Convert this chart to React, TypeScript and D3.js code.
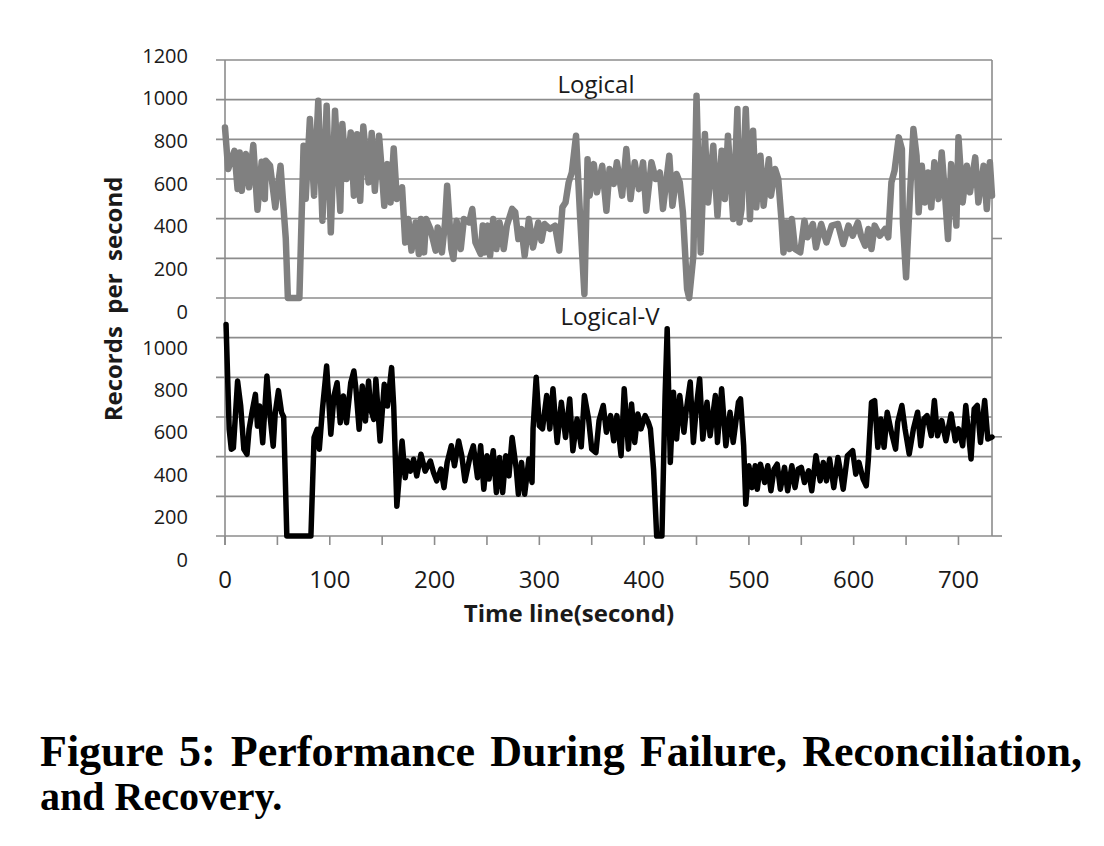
import React, { useLayoutEffect, useRef, useState } from "react";
import * as d3 from "d3";

// ---- data (time in seconds, records per second) ----
const logicalTime = [
  0, 3, 9, 12, 14, 16, 20, 23, 27, 31,
  35, 38, 39, 43, 48, 53, 55, 58, 60, 71,
  75, 77, 81, 85, 89, 93, 97, 101, 105, 110,
  112, 116, 120, 123, 126, 129, 132, 137, 140, 143,
  147, 149, 152, 155, 158, 161, 164, 169, 172, 175,
  178, 182, 185, 187, 190, 192, 196, 201, 203, 207,
  210, 212, 216, 218, 221, 225, 228, 233, 236, 239,
  244, 246, 248, 251, 253, 256, 259, 262, 266, 269,
  274, 277, 280, 283, 286, 290, 294, 299, 302, 305,
  310, 315, 319, 322, 325, 328, 331, 335, 339, 343,
  346, 348, 352, 355, 360, 364, 367, 371, 374, 379,
  383, 387, 391, 395, 399, 402, 407, 411, 415, 418,
  424, 427, 431, 434, 437, 441, 443, 447, 450, 454,
  458, 461, 466, 470, 474, 477, 480, 485, 489, 491,
  493, 497, 501, 504, 507, 511, 514, 519, 521, 525,
  528, 531, 533, 536, 539, 541, 544, 549, 553, 556,
  561, 564, 569, 574, 579, 585, 590, 595, 599, 604,
  607, 611, 614, 617, 620, 625, 630, 633, 636, 639,
  643, 646, 647, 650, 654, 657, 660, 662, 665, 668,
  671, 674, 677, 681, 684, 687, 690, 693, 698, 700,
  704, 708, 711, 716, 719, 724, 727, 730, 732,
];
const logicalRate = [
  860, 650, 742, 550, 734, 541, 726, 558, 771, 445,
  687, 499, 692, 667, 457, 667, 516, 300, 0, 0,
  768, 500, 902, 516, 995, 390, 969, 331, 944, 440,
  877, 600, 835, 516, 826, 490, 865, 583, 832, 541,
  818, 684, 465, 675, 482, 754, 499, 558, 280, 398,
  239, 381, 222, 398, 230, 398, 348, 239, 356, 230,
  380, 566, 247, 197, 390, 247, 398, 381, 449, 280,
  222, 365, 230, 365, 213, 398, 247, 381, 247, 365,
  449, 432, 297, 348, 213, 398, 255, 381, 289, 373,
  348, 365, 239, 457, 482, 583, 633, 818, 400, 20,
  700, 516, 675, 533, 667, 440, 650, 575, 684, 516,
  751, 499, 684, 549, 684, 440, 684, 600, 633, 449,
  717, 465, 625, 583, 432, 45, 0, 213, 1020, 230,
  827, 482, 768, 415, 743, 499, 818, 398, 953, 381,
  449, 953, 398, 843, 457, 717, 465, 700, 516, 650,
  600, 398, 230, 381, 247, 398, 247, 230, 390, 306,
  373, 255, 373, 280, 365, 373, 272, 365, 314, 381,
  314, 264, 348, 247, 365, 314, 348, 306, 583, 642,
  810, 751, 381, 104, 549, 852, 717, 432, 667, 482,
  633, 457, 684, 499, 734, 533, 297, 675, 365, 810,
  482, 667, 533, 709, 482, 667, 449, 684, 516,
];

const logicalVTime = [
  1, 4, 6, 8, 12, 15, 18, 21, 23, 26,
  29, 31, 33, 36, 40, 43, 46, 48, 51, 54,
  56, 59, 82, 85, 88, 90, 93, 97, 101, 104,
  107, 110, 113, 116, 120, 123, 125, 128, 131, 134,
  137, 139, 142, 144, 148, 152, 155, 159, 161, 164,
  169, 172, 174, 177, 180, 183, 187, 191, 196, 199,
  202, 206, 209, 212, 216, 219, 223, 226, 229, 234,
  237, 241, 244, 247, 250, 252, 256, 259, 262, 265,
  268, 271, 274, 278, 280, 283, 286, 290, 293, 294,
  297, 300, 303, 307, 310, 313, 317, 321, 325, 329,
  332, 336, 340, 343, 347, 350, 354, 357, 361, 364,
  368, 371, 374, 378, 381, 385, 388, 391, 394, 397,
  401, 404, 406, 409, 412, 417, 420, 422, 425, 428,
  431, 434, 438, 440, 444, 447, 450, 453, 456, 460,
  463, 468, 470, 474, 478, 482, 485, 490, 492, 495,
  497, 500, 503, 506, 508, 511, 515, 518, 521, 524,
  527, 530, 534, 537, 541, 544, 547, 550, 553, 557,
  560, 564, 568, 571, 574, 577, 581, 585, 587, 590,
  594, 599, 602, 605, 609, 612, 614, 617, 620, 623,
  626, 629, 632, 636, 640, 642, 646, 649, 653, 657,
  661, 664, 667, 670, 674, 677, 680, 684, 688, 693,
  697, 700, 704, 707, 712, 715, 718, 721, 725, 728,
  732,
];
const logicalVRate = [
  1067, 538, 437, 445, 781, 655, 437, 412, 538, 630,
  714, 554, 655, 470, 807, 605, 453, 622, 733, 622,
  600, 0, 0, 497, 538, 437, 639, 857, 513, 706,
  773, 571, 706, 571, 773, 832, 740, 538, 756, 580,
  781, 639, 588, 790, 479, 765, 655, 849, 655, 150,
  479, 294, 378, 327, 387, 303, 412, 327, 378, 320,
  278, 337, 244, 370, 455, 354, 479, 404, 278, 404,
  455, 294, 455, 236, 405, 287, 430, 219, 396, 219,
  405, 303, 497, 337, 211, 371, 211, 388, 270, 540,
  801, 556, 540, 708, 540, 742, 472, 674, 497, 691,
  430, 590, 450, 708, 590, 438, 421, 582, 658, 523,
  607, 480, 607, 405, 742, 438, 666, 472, 615, 540,
  607, 573, 540, 337, 0, 0, 708, 1045, 371, 725,
  489, 708, 523, 624, 776, 472, 658, 792, 489, 674,
  506, 708, 472, 742, 455, 624, 472, 674, 691, 455,
  160, 354, 244, 354, 236, 362, 270, 354, 228, 337,
  362, 236, 346, 228, 354, 244, 337, 346, 270, 329,
  228, 405, 278, 371, 278, 388, 244, 396, 337, 236,
  405, 430, 312, 371, 287, 253, 388, 674, 683, 447,
  590, 447, 624, 523, 438, 573, 658, 540, 413, 540,
  624, 455, 590, 607, 506, 683, 506, 582, 480, 615,
  480, 540, 455, 658, 388, 641, 658, 472, 683, 489,
  499,
];

const topTickLabels = [0, 200, 400, 600, 800, 1000, 1200];
const bottomTickLabels = [0, 200, 400, 600, 800, 1000];
const xTickLabels = [0, 100, 200, 300, 400, 500, 600, 700];
const xTickMarks = [0, 50, 100, 150, 200, 250, 300, 350, 400, 450, 500, 550, 600, 650, 700];
const rightStubs = [0, 500, 1000, 1500, 2000];

const seriesNames = ["Logical", "Logical-V"];
const yTitle = "Records  per  second";
const xTitle = "Time line(second)";
const captionLine1 = "Figure 5: Performance During Failure, Reconciliation,";
const captionLine2 = "and Recovery.";

export default function App() {
  const left = 225;
  const right = 992;
  const x = d3.scaleLinear().domain([0, 732]).range([left, right]);
  const yTop = d3.scaleLinear().domain([0, 1200]).range([298, 60]);
  const yBot = d3.scaleLinear().domain([0, 1200]).range([536, 298]);
  // tick labels in the reference sit on their own (slightly stretched) scale
  const yTopLabel = d3.scaleLinear().domain([0, 1200]).range([311, 55]);
  const yBotLabel = d3.scaleLinear().domain([0, 1000]).range([559, 347]);

  const topLine = d3
    .line<number>()
    .x((_, i) => x(logicalTime[i]))
    .y((d) => yTop(d));
  const botLine = d3
    .line<number>()
    .x((_, i) => x(logicalVTime[i]))
    .y((d) => yBot(d));

  // justify caption line 1 by widening the word gaps only
  const capRef = useRef<SVGTextElement>(null);
  const [wordSpacing, setWordSpacing] = useState(0);
  useLayoutEffect(() => {
    const el = capRef.current;
    if (!el) return;
    const natural = el.getComputedTextLength();
    const gaps = captionLine1.split(" ").length - 1;
    const target = 1082 - 40;
    setWordSpacing(Math.max(0, (target - natural) / gaps));
  }, []);

  const gridColor = "#8c8c8c";
  const textColor = "#1a1a1a";
  const sans = "'Open Sans', 'Noto Sans', sans-serif";
  const serif = "'Liberation Serif', 'Times New Roman', serif";

  return (
    <svg
      width={1104}
      height={846}
      style={{ position: "absolute", left: 0, top: 0, background: "#fff", display: "block" }}
    >
      <rect x={0} y={0} width={1104} height={846} fill="#fff" />
      {/* gridlines */}
      {[0, 200, 400, 600, 800, 1000, 1200].map((v) => (
        <line key={"gt" + v} x1={216} x2={right} y1={yTop(v)} y2={yTop(v)} stroke={gridColor} strokeWidth={1.6} />
      ))}
      {[0, 200, 400, 600, 800, 1000].map((v) => (
        <line key={"gb" + v} x1={216} x2={right} y1={yBot(v)} y2={yBot(v)} stroke={gridColor} strokeWidth={1.6} />
      ))}
      {/* right stubs */}
      {rightStubs.map((v) => (
        <line key={"rs" + v} x1={right} x2={1002} y1={yBot(v)} y2={yBot(v)} stroke={gridColor} strokeWidth={1.6} />
      ))}
      {/* axes */}
      <line x1={left} x2={left} y1={60} y2={545} stroke={gridColor} strokeWidth={1.6} />
      <line x1={right} x2={right} y1={60} y2={536} stroke={gridColor} strokeWidth={1.6} />
      {xTickMarks.map((t) => (
        <line key={"xt" + t} x1={x(t)} x2={x(t)} y1={536} y2={545} stroke={gridColor} strokeWidth={1.6} />
      ))}

      {/* series */}
      <path
        d={topLine(logicalRate) || ""}
        fill="none"
        stroke="#808080"
        strokeWidth={6.5}
        strokeLinejoin="round"
        strokeLinecap="round"
      />
      <path
        d={botLine(logicalVRate) || ""}
        fill="none"
        stroke="#000"
        strokeWidth={5.5}
        strokeLinejoin="round"
        strokeLinecap="round"
      />

      {/* y tick labels */}
      {topTickLabels.map((v) => (
        <text key={"lt" + v} x={188} y={yTopLabel(v)} textAnchor="end" dominantBaseline="central"
          fontFamily={sans} fontSize={20} fill={textColor}>{v}</text>
      ))}
      {bottomTickLabels.map((v) => (
        <text key={"lb" + v} x={188} y={yBotLabel(v)} textAnchor="end" dominantBaseline="central"
          fontFamily={sans} fontSize={20} fill={textColor}>{v}</text>
      ))}
      {/* x tick labels */}
      {xTickLabels.map((t) => (
        <text key={"xl" + t} x={x(t)} y={578} textAnchor="middle" dominantBaseline="central"
          fontFamily={sans} fontSize={24} fill={textColor}>{t}</text>
      ))}

      {/* series annotations */}
      <text x={596} y={83} textAnchor="middle" dominantBaseline="central" fontFamily={sans} fontSize={24} fill={textColor}>
        {seriesNames[0]}
      </text>
      <text x={610} y={315} textAnchor="middle" dominantBaseline="central" fontFamily={sans} fontSize={24} fill={textColor}>
        {seriesNames[1]}
      </text>

      {/* axis titles */}
      <text x={569} y={612} textAnchor="middle" dominantBaseline="central" fontFamily={sans} fontSize={24}
        fontWeight="bold" fill={textColor}>{xTitle}</text>
      <text transform="translate(112,299) rotate(-90)" textAnchor="middle" dominantBaseline="central"
        fontFamily={sans} fontSize={24} fontWeight="bold" fill={textColor} style={{ whiteSpace: "pre" }}>
        {yTitle}
      </text>

      {/* caption */}
      <text ref={capRef} x={40} y={766} fontFamily={serif} fontSize={44} fontWeight="bold"
        fill="#000" style={{ wordSpacing: `${wordSpacing}px` }}>{captionLine1}</text>
      <text x={40} y={810} fontFamily={serif} fontSize={40} fontWeight="bold"
        fill="#000">{captionLine2}</text>
    </svg>
  );
}
